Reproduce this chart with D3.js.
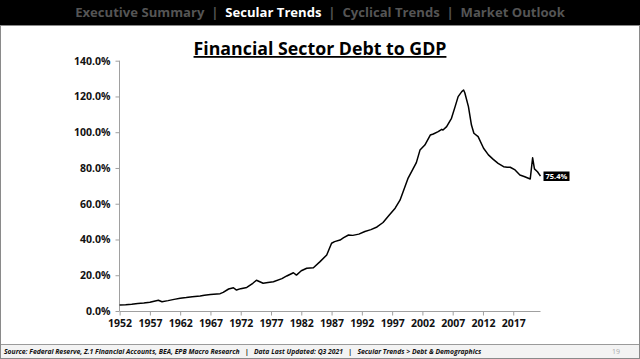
<!DOCTYPE html>
<html><head><meta charset="utf-8">
<script src="https://cdn.jsdelivr.net/npm/d3@7"></script>
<style>html,body{margin:0;padding:0;background:#fff;}svg{display:block;}</style>
</head><body>
<svg id="c" width="640" height="359"></svg>
<script>
const navItems = ["Executive Summary", "Secular Trends", "Cyclical Trends", "Market Outlook"];
const activeNav = "Secular Trends";
const title = "Financial Sector Debt to GDP";
const footerText = "Source: Federal Reserve, Z.1 Financial Accounts, BEA, EPB Macro Research   |   Data Last Updated: Q3 2021   |   Secular Trends > Debt & Demographics";
const pageNumber = "19";
const yTicks = [0, 20, 40, 60, 80, 100, 120, 140];
const xTickYears = [1952, 1957, 1962, 1967, 1972, 1977, 1982, 1987, 1992, 1997, 2002, 2007, 2012, 2017];
const years = [1952.0,1953,1954,1955,1956,1957,1958.4,1959.0,1960,1961,1962,1963,1964,1965.3,1966,1967,1968.6,1969.1,1970.0,1970.8,1971.3,1972,1973,1974.0,1974.6,1975.7,1976.5,1977.4,1978.8,1979.6,1980.7,1981.2,1982.0,1982.9,1984.0,1985.1,1986.2,1987.0,1987.5,1988.4,1989.0,1989.8,1990.5,1991.5,1992.5,1993.5,1994.5,1995.5,1996.5,1997.5,1998.3,1998.8,1999.6,2000.3,2001.0,2001.6,2002.4,2003.3,2003.8,2004.6,2005.2,2005.4,2006.0,2006.8,2007.4,2007.9,2008.5,2008.8,2009.0,2009.6,2010.1,2010.5,2011.2,2012.1,2012.9,2013.7,2014.5,2015.4,2016.0,2016.5,2017.3,2018.1,2018.9,2019.8,2020.2,2020.5,2021.0,2021.5];
const debtToGdp = [3.3,3.5,3.8,4.2,4.5,4.9,6.0,5.2,5.8,6.5,7.1,7.5,8.0,8.4,8.8,9.2,9.7,10.4,12.3,13.0,11.7,12.5,13.2,15.5,17.2,15.5,15.9,16.4,18.1,19.6,21.4,20.1,22.5,23.9,24.2,27.6,31.3,37.9,38.8,39.7,41.0,42.5,42.3,43.0,44.5,45.5,47.0,49.5,53.5,57.5,62.0,66.5,74.0,78.5,83.0,90.0,92.8,98.4,99.0,100.3,101.6,101.2,103.1,107.8,114.3,119.9,122.7,123.6,122.1,114.3,104.0,99.4,97.5,91.0,87.3,84.8,82.6,80.7,80.4,80.4,78.9,76.1,75.1,73.8,85.7,79.5,77.9,75.4];
const lastLabel = "75.4%";

const svg = d3.select("#c");
const W = 640, H = 359;

// top bar
svg.append("rect").attr("x",0).attr("y",0).attr("width",W).attr("height",25).attr("fill","#000");
const nav = svg.append("text").attr("x",320).attr("y",17).attr("text-anchor","middle")
  .attr("font-family","Open Sans, sans-serif").attr("font-weight",700).attr("font-size",14);
navItems.forEach((n,i)=>{
  if(i>0) nav.append("tspan").attr("fill","#555").attr("xml:space","preserve").text("  |  ");
  nav.append("tspan").attr("fill", n===activeNav?"#fff":"#555").text(n);
});
(function fit(){const w=nav.node().getComputedTextLength(); nav.attr("font-size",14*490/w);})();

// slide frame
svg.append("rect").attr("x",0.5).attr("y",25.5).attr("width",W-1).attr("height",H-26).attr("fill","none").attr("stroke","#8a8a8a");
svg.append("rect").attr("x",1).attr("y",344).attr("width",W-2).attr("height",14).attr("fill","#f3f3f3");
svg.append("line").attr("x1",1).attr("x2",W-1).attr("y1",344.5).attr("y2",344.5).attr("stroke","#9a9a9a");

// title
const t = svg.append("text").attr("x",320).attr("y",55).attr("text-anchor","middle")
  .attr("font-family","Open Sans, sans-serif").attr("font-weight",700).attr("font-size",19)
  .attr("text-decoration","underline").attr("fill","#000").text(title);
(function(){const w=t.node().getComputedTextLength(); t.attr("font-size",19*253/w);})();

// scales
const x = d3.scaleLinear().domain([1952, 2021.5]).range([119.6, 540.5]);
const y = d3.scaleLinear().domain([0, 140]).range([311, 60.7]);

// y axis
const yAxis = svg.append("g").attr("transform","translate(119.5,0)")
  .call(d3.axisLeft(y).tickValues(yTicks).tickSize(4).tickFormat(d=>d.toFixed(1)+"%"));
yAxis.select(".domain").attr("stroke","#a0a0a0").attr("d","M0,"+y(140)+"V"+y(0));
yAxis.selectAll(".tick line").attr("stroke","#a0a0a0");
yAxis.selectAll(".tick text").attr("x",-9).attr("font-family","Open Sans, sans-serif")
  .attr("font-weight",700).attr("font-size",10.5).attr("fill","#111");

// x axis
const xAxis = svg.append("g").attr("transform","translate(0,311.5)")
  .call(d3.axisBottom(x).tickValues(xTickYears).tickSize(4).tickFormat(d3.format("d")));
xAxis.select(".domain").attr("stroke","#a0a0a0").attr("d","M"+x(1952)+",0H"+x(2021.5));
xAxis.selectAll(".tick line").attr("stroke","#a0a0a0");
xAxis.selectAll(".tick text").attr("y",8).attr("font-family","Open Sans, sans-serif")
  .attr("font-weight",700).attr("font-size",10.5).attr("fill","#111");

// line
const data = years.map((yr,i)=>({yr, v: debtToGdp[i]}));
svg.append("path").datum(data).attr("fill","none").attr("stroke","#000").attr("stroke-width",1.5)
  .attr("stroke-linejoin","round")
  .attr("d", d3.line().x(d=>x(d.yr)).y(d=>y(d.v)));

// last value label
const last = data[data.length-1];
const lg = svg.append("g").attr("transform",`translate(${x(last.yr)+3},${y(last.v)})`);
const lt = lg.append("text").attr("x",2).attr("y",3).attr("font-family","Open Sans, sans-serif")
  .attr("font-weight",700).attr("font-size",7.5).attr("fill","#fff").text(lastLabel);
const bb = lt.node().getBBox();
lg.insert("rect","text").attr("x",0).attr("y",-4.7).attr("width",bb.width+4).attr("height",9.5).attr("fill","#000");

// footer
const ft = svg.append("text").attr("x",4).attr("y",354).attr("font-family","Open Sans, sans-serif")
  .attr("font-style","italic").attr("font-weight",700).attr("font-size",6.5).attr("fill","#111")
  .attr("xml:space","preserve").text(footerText);
(function(){const w=ft.node().getComputedTextLength(); ft.attr("font-size",6.5*478/w);})();
svg.append("text").attr("x",616).attr("y",354).attr("text-anchor","middle").attr("font-family","Open Sans, sans-serif")
  .attr("font-size",7).attr("fill","#aaa").text(pageNumber);
</script>
</body></html>
